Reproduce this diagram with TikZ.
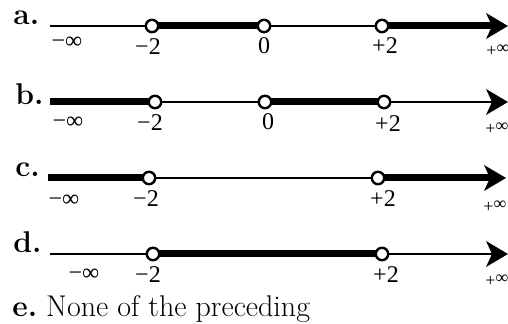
\documentclass[tikz,border=0pt]{standalone}
\usepackage{fontspec}
\newfontfamily\tms{Liberation Serif}
\usetikzlibrary{arrows.meta}
\pgfdeclarelayer{bg}
\pgfsetlayers{bg,main}
\begin{document}
\begin{tikzpicture}[x=0.5pt,y=-0.5pt,
 dot/.style={circle,draw,line width=1.2pt,fill=white,minimum size=6.2pt,inner sep=0pt},
 thinl/.style={line width=1pt},
 thickl/.style={line width=3.5pt},
 tip/.style={-{Stealth[length=11pt,width=13pt,inset=3pt,line width=0pt]}},
 lbl/.style={font=\fontsize{15}{18}\selectfont\bfseries, anchor=base west, inner sep=0pt},
 tick/.style={font=\tms\fontsize{12}{13}\selectfont, anchor=base, inner sep=0pt},
 inf/.style={font=\tms\fontsize{9}{10}\selectfont, anchor=base west, inner sep=0pt}]
\useasboundingbox (0,0) rectangle (508,324);
% row a
\node[lbl] (la) at (13,25) {a.};
\coordinate (a0) at (50,26);
\node[dot] (a1) at (152,26) {};
\node[dot] (a2) at (264,26) {};
\node[dot] (a3) at (382,26) {};
\coordinate (a4) at (508,26);
\begin{pgfonlayer}{bg}
\draw[thinl] (a0) -- (a1.center);
\draw[thickl] (a1.center) -- (a2.center);
\draw[thinl] (a2.center) -- (a3.center);
\draw[thickl,tip] (a3.center) -- (a4);
\end{pgfonlayer}
\node[tick] (ta0) at (67,49) {−∞};
\node[tick] (ta1) at (148,55) {−2};
\node[tick] (ta2) at (264,54) {0};
\node[tick] (ta3) at (385,54) {+2};
\node[inf] (ta4) at (486,57) {+\raisebox{1.5pt}{∞}};
% row b
\node[lbl] (lb) at (15,105) {b.};
\coordinate (b0) at (50,102);
\node[dot] (b1) at (155,102) {};
\node[dot] (b2) at (265,102) {};
\node[dot] (b3) at (384,102) {};
\coordinate (b4) at (508,102);
\begin{pgfonlayer}{bg}
\draw[thickl] (b0) -- (b1.center);
\draw[thinl] (b1.center) -- (b2.center);
\draw[thickl] (b2.center) -- (b3.center);
\draw[thinl,tip] (b3.center) -- (b4);
\end{pgfonlayer}
\node[tick] (tb0) at (68,129) {−∞};
\node[tick] (tb1) at (150,131) {−2};
\node[tick] (tb2) at (268,130) {0};
\node[tick] (tb3) at (388,132) {+2};
\node[inf] (tb4) at (485,135) {+\raisebox{1.5pt}{∞}};
% row c
\node[lbl] (lc) at (15,177) {c.};
\coordinate (c0) at (48,178);
\node[dot] (c1) at (149,178) {};
\node[dot] (c2) at (378,178) {};
\coordinate (c3) at (506,178);
\begin{pgfonlayer}{bg}
\draw[thickl] (c0) -- (c1.center);
\draw[thinl] (c1.center) -- (c2.center);
\draw[thickl,tip] (c2.center) -- (c3);
\end{pgfonlayer}
\node[tick] (tc0) at (64,207) {−∞};
\node[tick] (tc1) at (146,207) {−2};
\node[tick] (tc2) at (383,207) {+2};
\node[inf] (tc3) at (483,213) {+\raisebox{1.5pt}{∞}};
% row d
\node[lbl] (ld) at (13,253) {d.};
\coordinate (d0) at (50,254);
\node[dot] (d1) at (153,254) {};
\node[dot] (d2) at (382,254) {};
\coordinate (d3) at (508,254);
\begin{pgfonlayer}{bg}
\draw[thinl] (d0) -- (d1.center);
\draw[thickl] (d1.center) -- (d2.center);
\draw[thinl,tip] (d2.center) -- (d3);
\end{pgfonlayer}
\node[tick] (td0) at (84,281) {−∞};
\node[tick] (td1) at (148,283) {−2};
\node[tick] (td2) at (386,283) {+2};
\node[inf] (td3) at (485,287) {+\raisebox{1.5pt}{∞}};
% e
\node[lbl,font=\fontsize{15}{18}\selectfont] (le) at (12,317) {\textbf{e.}\ None of the preceding};
\end{tikzpicture}
\end{document}
